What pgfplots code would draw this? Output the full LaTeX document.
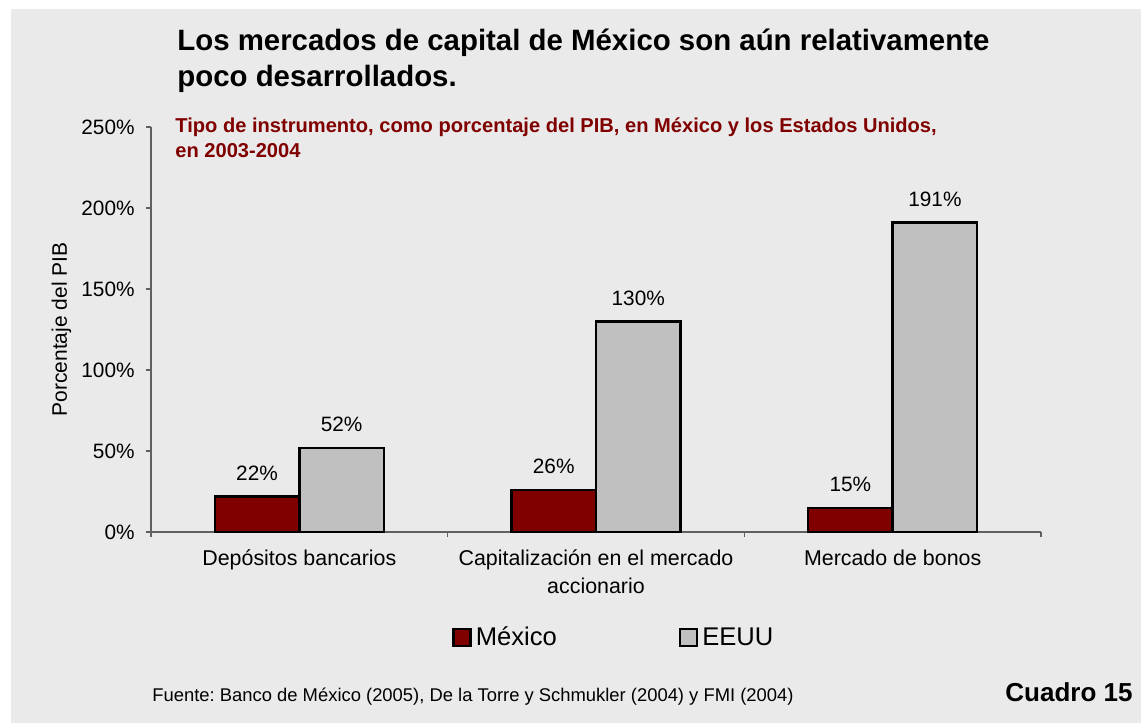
\documentclass[border=0pt]{standalone}
\usepackage{fontspec}
\setmainfont{Liberation Sans}
\usepackage{pgfplots}
\pgfplotsset{compat=1.18}
\definecolor{mexred}{HTML}{800000}
\definecolor{usgray}{HTML}{C0C0C0}
\definecolor{panel}{HTML}{EAEAEA}
\definecolor{axisgray}{HTML}{606060}
\pgfplotsset{sqlegend/.style={legend image code/.code={\draw[##1] (0pt,-4.25pt) rectangle (8.5pt,4.25pt);}}}
\frenchspacing

\begin{document}
\begin{tikzpicture}
% 1 px of the reference = 0.5pt
\useasboundingbox (0,0) rectangle (570.5pt,361.5pt);
\fill[white] (0,0) rectangle (570.5pt,361.5pt);
\fill[panel] (5.5pt,0) rectangle (570.5pt,357pt);

\begin{axis}[
  at={(75.5pt,95.5pt)}, anchor=south west,
  scale only axis, width=445pt, height=202.5pt,
  xmin=0, xmax=3, ymin=0, ymax=250,
  axis lines*=left,
  axis line style={axisgray, line width=0.8pt},
  tick align=outside,
  major tick length=2.5pt, minor tick length=2.5pt,
  tick style={axisgray, line width=0.8pt},
  xtick={0.5,1.5,2.5},
  xticklabels={Depósitos bancarios, {Capitalización en el mercado\\accionario}, {\vphantom{ó}Mercado de bonos}},
  major x tick style={draw=none},
  minor xtick={0,1,2,3},
  ytick={0,50,...,250},
  yticklabel={\pgfmathprintnumber{\tick}\%},
  /pgf/number format/assume math mode=true,
  yticklabel style={font=\fontsize{10.4}{14}\selectfont, anchor=east, inner sep=0pt, xshift=-5.5pt},
  xticklabel style={font=\fontsize{10.7}{14}\selectfont, align=center, anchor=north, inner sep=0pt, yshift=-6pt},
  ylabel={Porcentaje del PIB},
  every axis y label/.style={at={(axis description cs:-0.0944,0.5)}, rotate=90, anchor=base, inner sep=0pt, font=\fontsize{10.5}{12.6}\selectfont},
  bar width=0.285,
  nodes near coords={\pgfmathprintnumber{\pgfplotspointmeta}\%},
  nodes near coords style={font=\fontsize{10.4}{12.5}\selectfont, anchor=base, yshift=8pt, inner sep=0pt, black},
  legend columns=2,
  legend style={at={(axis description cs:0.3382,-0.2605)}, anchor=west, draw=none, fill=none, inner sep=0pt,
    font=\fontsize{12.8}{15}\selectfont, /tikz/every even column/.append style={column sep=59pt}},
  legend cell align=left,
]
\addplot[ybar, bar shift=-0.1425, fill=mexred, draw=black, line width=1.2pt, sqlegend,
  every node near coord/.append style={xshift=-21.14pt}]
  coordinates {(0.5,22) (1.5,26) (2.5,15)};
\addplot[ybar, bar shift=0.1425, fill=usgray, draw=black, line width=1.2pt, sqlegend,
  every node near coord/.append style={xshift=21.14pt}]
  coordinates {(0.5,52) (1.5,130) (2.5,191)};
\legend{México, \vphantom{é}EEUU}
\end{axis}

% titles
\node[anchor=base west, inner sep=0pt, font=\bfseries\fontsize{14.7}{17}\selectfont] at (88.5pt,336pt) {Los mercados de capital de México son aún relativamente};
\node[anchor=base west, inner sep=0pt, font=\bfseries\fontsize{14.7}{17}\selectfont] at (88.5pt,318pt) {poco desarrollados.};
\node[anchor=base west, inner sep=0pt, text=mexred, font=\bfseries\fontsize{10.05}{12}\selectfont] at (87.5pt,295pt) {Tipo de instrumento, como porcentaje del PIB, en México y los Estados Unidos,};
\node[anchor=base west, inner sep=0pt, text=mexred, font=\bfseries\fontsize{10.05}{12}\selectfont] at (87.5pt,282.5pt) {en 2003-2004};
% footer
\node[anchor=base west, inner sep=0pt, font=\fontsize{9.2}{11}\selectfont] at (76pt,10.5pt) {Fuente: Banco de México (2005), De la Torre y Schmukler (2004) y FMI (2004)};
\node[anchor=base east, inner sep=0pt, font=\bfseries\fontsize{13}{15}\selectfont] at (566.5pt,10.5pt) {Cuadro 15};
\end{tikzpicture}
\end{document}
